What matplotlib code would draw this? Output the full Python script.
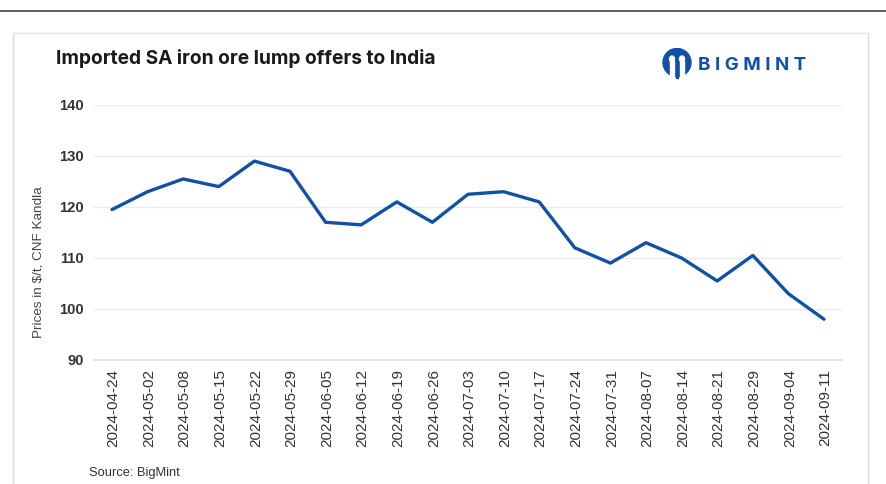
import matplotlib
matplotlib.use("Agg")
import matplotlib.pyplot as plt
from matplotlib.patches import Circle, Ellipse, Rectangle
from matplotlib.lines import Line2D
from matplotlib.transforms import ScaledTranslation

dates = ["2024-04-24","2024-05-02","2024-05-08","2024-05-15","2024-05-22","2024-05-29","2024-06-05",
         "2024-06-12","2024-06-19","2024-06-26","2024-07-03","2024-07-10","2024-07-17","2024-07-24",
         "2024-07-31","2024-08-07","2024-08-14","2024-08-21","2024-08-29","2024-09-04","2024-09-11"]
prices = [119.5,123,125.5,124,129,127,117,116.5,121,117,122.5,123,121,112,109,113,110,105.5,110.5,103,98]
yticks = [90,100,110,120,130,140]
title = "Imported SA iron ore lump offers to India"
ylabel = "Prices in $/t, CNF Kandla"
source = "Source: BigMint"
brand = "B I G M I N T"

W, H = 887, 484
BLUE = "#0F52A5"
fig = plt.figure(figsize=(W/100, H/100), dpi=100, facecolor="white")

def fx(x): return x / W
def fy(y): return 1 - y / H

fig.add_artist(Line2D([0, 1], [fy(10.5)]*2, color="#555555", lw=1.3))
fig.add_artist(Line2D([fx(13.5), fx(13.5)], [0, fy(32.5)], color="#D9D9D9", lw=1))
fig.add_artist(Line2D([fx(868.5), fx(868.5)], [0, fy(32.5)], color="#D9D9D9", lw=1))
fig.add_artist(Line2D([fx(13.5), fx(868.5)], [fy(32.5)]*2, color="#E3E3E3", lw=1))

ax = fig.add_axes([fx(94.2), fy(360), (841.8-94.2)/W, 255/H])
ax.set_facecolor("none")
ax.plot(range(len(dates)), prices, color=BLUE, lw=2.4, solid_joinstyle="round", solid_capstyle="round", zorder=3)
ax.set_xlim(-0.5, len(dates)-0.5)
ax.set_ylim(90, 140)
ax.set_yticks(yticks)
ax.set_yticklabels([str(v) for v in yticks], fontsize=10.6, fontweight="bold", color="#333333", family="Liberation Sans")
ax.set_xticks(range(len(dates)))
ax.set_xticklabels(dates, rotation=90, fontsize=11, color="#333333", family="Liberation Sans")
ax.tick_params(axis="both", length=0)
ax.tick_params(axis="y", pad=7.5)
ax.tick_params(axis="x", pad=6.5)
shift = ScaledTranslation(1.5/100, 0, fig.dpi_scale_trans)
for lab in ax.get_xticklabels():
    lab.set_transform(lab.get_transform() + shift)
ax.grid(axis="y", color="#EBEBEB", lw=1)
ax.set_axisbelow(True)
for s in ax.spines.values():
    s.set_visible(False)
ax.spines["bottom"].set_visible(True)
ax.spines["bottom"].set_color("#E3E3E3")
ax.spines["bottom"].set_linewidth(1.4)

fig.text(fx(39), fy(262), ylabel, rotation=90, ha="center", va="center", fontsize=9.7,
         color="#444444", family="Liberation Sans")
fig.text(fx(56), fy(58.5), title, ha="left", va="center", fontsize=13.8, fontweight="bold",
         color="#1A1A1A", family="Inter")
fig.text(fx(89), fy(473), source, ha="left", va="center", fontsize=9.3,
         color="#333333", family="Liberation Sans")
fig.text(fx(698), fy(65.5), brand, ha="left", va="center", fontsize=13.5, fontweight="bold",
         color=BLUE, family="Inter", path_effects=[])

# logo mark, drawn in pixel coordinates
lg = fig.add_axes([fx(660), fy(80), 36/W, 32/H])
lg.set_xlim(660, 696); lg.set_ylim(80, 48); lg.axis("off")
lg.add_patch(Circle((677, 62.5), 14, color=BLUE))
for cx in (672, 682):
    lg.add_patch(Ellipse((cx, 59), 5, 6, color="white"))
    lg.add_patch(Rectangle((cx-1.7, 61), 3.4, 17, color="white"))
lg.add_patch(Rectangle((675.8, 70), 2.4, 8, color=BLUE))
fig.savefig("out.png", dpi=100)
